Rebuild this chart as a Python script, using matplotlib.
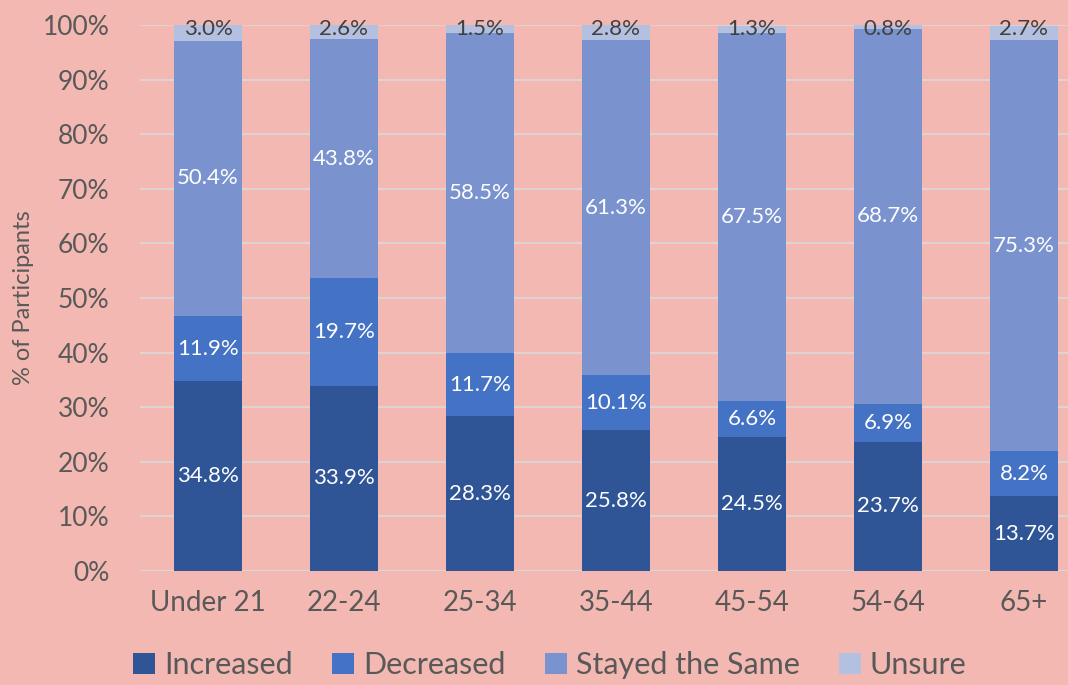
import matplotlib.pyplot as plt
import numpy as np

categories = ["Under 21", "22-24", "25-34", "35-44", "45-54", "54-64", "65+"]
increased = [34.8, 33.9, 28.3, 25.8, 24.5, 23.7, 13.7]
decreased = [11.9, 19.7, 11.7, 10.1, 6.6, 6.9, 8.2]
stayed = [50.4, 43.8, 58.5, 61.3, 67.5, 68.7, 75.3]
unsure = [3.0, 2.6, 1.5, 2.8, 1.3, 0.8, 2.7]

series = [
    ("Increased", increased, "#2F5597", "white"),
    ("Decreased", decreased, "#4472C4", "white"),
    ("Stayed the Same", stayed, "#7A93CE", "white"),
    ("Unsure", unsure, "#B4C0E0", "#404040"),
]

bg = "#F4B8B2"
plt.rcParams["font.family"] = ["Lato", "DejaVu Sans"]

fig = plt.figure(figsize=(10.68, 6.85), dpi=100, facecolor=bg)
ax = fig.add_axes([140 / 1068, 1 - 571 / 685, 1 - 140 / 1068, 546 / 685])
ax.set_facecolor(bg)

x = np.arange(len(categories))
bottom = np.zeros(len(categories))
for name, vals, color, tcolor in series:
    vals = np.array(vals)
    ax.bar(x, vals, 0.5, bottom=bottom, color=color, label=name, zorder=3)
    for xi, b, v in zip(x, bottom, vals):
        yc = b + v / 2
        if name == "Unsure":
            yc = 100 - 0.7
        ax.text(xi, yc, f"{v:.1f}%", ha="center", va="center",
                color=tcolor, fontsize=16, zorder=4)
    bottom += vals

ax.set_xlim(-0.5, (1068 - 208) / 136)
ax.set_ylim(0, 100)
ax.set_yticks(np.arange(0, 101, 10))
ax.set_yticklabels([f"{v}%" for v in range(0, 101, 10)])
ax.set_xticks(x)
ax.set_xticklabels(categories)
ax.tick_params(axis="y", length=0, pad=22, labelsize=19, labelcolor="#595959")
ax.tick_params(axis="x", length=0, pad=14, labelsize=20, labelcolor="#595959")
ax.grid(axis="y", color="#D9D9D9", linewidth=1.2, zorder=0)
for s in ax.spines.values():
    s.set_visible(False)
ax.axhline(0, color="#D9D9D9", linewidth=1.2, zorder=1)

ax.set_ylabel("% of Participants", fontsize=17, color="#595959", labelpad=6)

handles, labels = ax.get_legend_handles_labels()
fig.legend(handles, labels, loc="center", bbox_to_anchor=(0.515, 1 - 665 / 685),
           ncol=4, frameon=False, fontsize=22, labelcolor="#595959",
           handlelength=0.7, handleheight=0.7, handletextpad=0.3, columnspacing=1.3)

fig.savefig("out.png", dpi=100, facecolor=bg)
